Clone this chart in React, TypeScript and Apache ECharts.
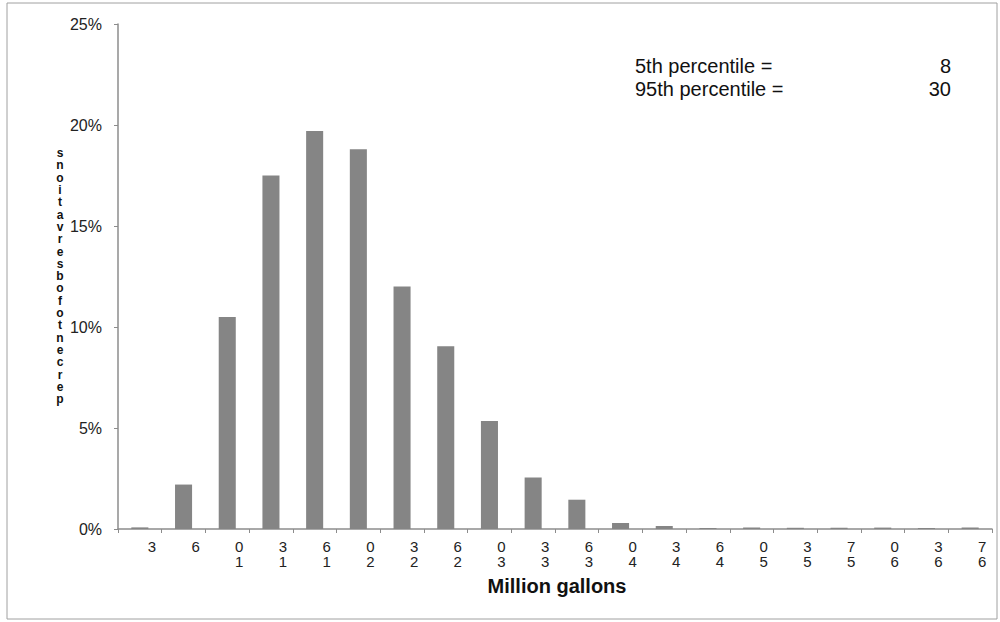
import React, { useEffect, useRef } from "react";
import * as echarts from "echarts";

const categories = ["3", "6", "10", "13", "16", "20", "23", "26", "30", "33", "36", "40", "43", "46", "50", "53", "57", "60", "63", "67"];
const shares = [0.08, 2.2, 10.5, 17.5, 19.7, 18.8, 12.0, 9.05, 5.35, 2.55, 1.45, 0.3, 0.15, 0.05, 0.07, 0.06, 0.06, 0.07, 0.05, 0.08];
const yTicks = [0, 5, 10, 15, 20, 25];
const xTitle = "Million gallons";
const yTitle = "percent of observations";
const noteLabels = ["5th percentile =", "95th percentile ="];
const noteValues = ["8", "30"];

export default function App() {
  const ref = useRef<HTMLDivElement>(null);
  useEffect(() => {
    if (!ref.current) return;
    const chart = echarts.init(ref.current, null, { renderer: "svg" });
    const stacked = yTitle.replace(/ /g, "").split("").reverse().join("\n");
    chart.setOption({
      animation: false,
      backgroundColor: "#ffffff",
      grid: { left: 118, right: 8, top: 24, bottom: 93, containLabel: false },
      xAxis: {
        type: "category",
        data: categories,
        boundaryGap: true,
        axisLine: { lineStyle: { color: "#8c8c8c", width: 1.5 } },
        axisTick: { show: true, length: 4, lineStyle: { color: "#8c8c8c" } },
        axisLabel: {
          margin: 10,
          interval: 0,
          fontFamily: "Liberation Sans",
          fontSize: 15,
          color: "#222",
          lineHeight: 15,
          padding: [0, 0, 0, 24],
          formatter: (v: string) => (v.length === 1 ? v : v.slice(1) + "\n" + v.slice(0, 1)),
        },
      },
      yAxis: {
        type: "value",
        min: yTicks[0],
        max: yTicks[yTicks.length - 1],
        interval: 5,
        splitLine: { show: false },
        axisLine: { show: true, lineStyle: { color: "#8c8c8c", width: 1.5 } },
        axisTick: { show: true, length: 4, lineStyle: { color: "#8c8c8c" } },
        axisLabel: {
          margin: 16,
          fontFamily: "Liberation Sans",
          fontSize: 16,
          color: "#222",
          formatter: "{value}%",
        },
      },
      series: [
        {
          type: "bar",
          data: shares,
          barWidth: "39%",
          itemStyle: { color: "#858585" },
        },
      ],
      graphic: [
        {
          type: "rect",
          shape: { x: 7, y: 3, width: 990, height: 616 },
          style: { fill: "none", stroke: "#a0a0a0", lineWidth: 1 },
          silent: true,
        },
        {
          type: "text",
          x: 557,
          y: 586,
          style: {
            text: xTitle,
            fontFamily: "Liberation Sans",
            fontWeight: "bold",
            fontSize: 20,
            fill: "#111",
            align: "center",
            verticalAlign: "middle",
          },
        },
        {
          type: "text",
          x: 60,
          y: 147,
          style: {
            text: stacked,
            fontFamily: "Liberation Sans",
            fontWeight: "bold",
            fontSize: 12,
            lineHeight: 12.3,
            fill: "#111",
            align: "center",
            verticalAlign: "top",
          },
        },
        ...noteLabels.map((t, i) => ({
          type: "text",
          x: 635,
          y: 66 + i * 22.5,
          style: {
            text: t,
            fontFamily: "Liberation Sans",
            fontSize: 20,
            fill: "#111",
            align: "left",
            verticalAlign: "middle",
          },
        })),
        ...noteValues.map((t, i) => ({
          type: "text",
          x: 951,
          y: 66 + i * 22.5,
          style: {
            text: t,
            fontFamily: "Liberation Sans",
            fontSize: 20,
            fill: "#111",
            align: "right",
            verticalAlign: "middle",
          },
        })),
      ],
    });
    return () => chart.dispose();
  }, []);
  return (
    <div
      ref={ref}
      style={{ position: "fixed", left: 0, top: 0, width: 1000, height: 622 }}
    />
  );
}
